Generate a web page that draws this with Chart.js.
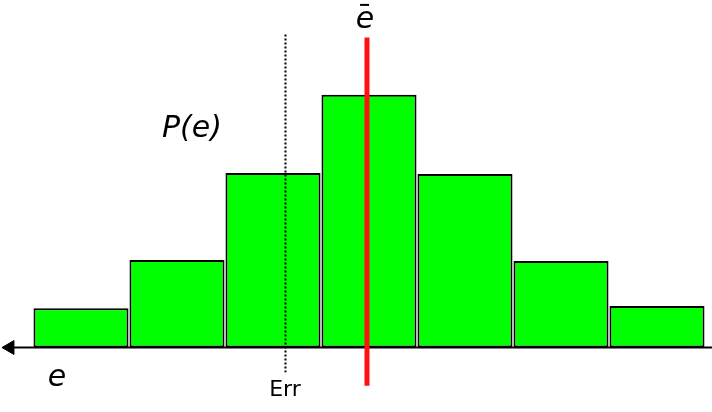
<!DOCTYPE html>
<html>
<head>
<meta charset="utf-8">
<script src="https://cdn.jsdelivr.net/npm/chart.js@4/dist/chart.umd.min.js"></script>
<style>
  html, body { margin: 0; padding: 0; background: #fff; }
  #wrap { width: 712px; height: 412px; position: relative; }
</style>
</head>
<body>
<div id="wrap"><canvas id="c"></canvas></div>
<script>
// Histogram bins (centres) and heights P(e)
const binCenters = [1, 2, 3, 4, 5, 6, 7];
const binHeights = [1.27, 2.82, 5.63, 8.15, 5.60, 2.79, 1.34];
// Mean of e and the Err threshold (x in bin units)
const meanE = 3.979;
const errX = 3.130;
// Vertical extents of the marker lines
const meanLineY = [10.0, -1.23];
const errLineY = [10.1, -0.8];
// Axis extents
const axisX = [0.26, 7.573];
const xRange = [0.15625, 7.5729];
const yRange = [-2.08, 11.21];

const barData = binCenters.map((x, i) => ({ x: x, y: binHeights[i] }));

const annotations = {
  id: 'annotations',
  afterDatasetsDraw(chart) {
    const { ctx, scales: { x, y } } = chart;
    ctx.save();
    ctx.fillStyle = '#000';
    ctx.textAlign = 'center';
    ctx.textBaseline = 'alphabetic';
    ctx.font = 'oblique 30px "DejaVu Sans"';
    ctx.fillText('e', x.getPixelForValue(0.75), y.getPixelForValue(-1.24));
    ctx.fillText('P(e)', x.getPixelForValue(2.156), y.getPixelForValue(6.79));
    const mx = x.getPixelForValue(meanE - 0.02);
    const my = y.getPixelForValue(10.31);
    ctx.fillText('e', mx, my);
    ctx.strokeStyle = '#000';
    ctx.lineWidth = 2;
    ctx.beginPath();
    ctx.moveTo(mx - 5, my - 23);
    ctx.lineTo(mx + 4, my - 23);
    ctx.stroke();
    ctx.font = '22px "DejaVu Sans"';
    ctx.fillText('Err', x.getPixelForValue(3.125), y.getPixelForValue(-1.56));
    ctx.restore();
  }
};

new Chart(document.getElementById('c'), {
  data: {
    datasets: [
      {
        type: 'line',
        order: 0,
        data: [{ x: meanE, y: meanLineY[0] }, { x: meanE, y: meanLineY[1] }],
        borderColor: '#ff1111',
        borderWidth: 5,
        pointRadius: 0,
        borderCapStyle: 'butt'
      },
      {
        type: 'line',
        order: 1,
        data: [{ x: errX, y: errLineY[0] }, { x: errX, y: errLineY[1] }],
        borderColor: '#000',
        borderWidth: 2,
        borderDash: [2, 2],
        pointRadius: 0
      },
      {
        type: 'line',
        order: 2,
        data: [{ x: axisX[0], y: 0 }, { x: axisX[1], y: 0 }],
        borderColor: '#000',
        borderWidth: 2,
        pointStyle: 'triangle',
        pointRotation: -90,
        pointRadius: [8, 0],
        pointBackgroundColor: '#000',
        pointBorderColor: '#000',
        pointBorderWidth: 1
      },
      {
        type: 'bar',
        order: 3,
        data: barData,
        backgroundColor: '#00ff00',
        borderColor: '#000',
        borderWidth: 2,
        borderSkipped: false,
        barPercentage: 0.99,
        categoryPercentage: 1.0
      }
    ]
  },
  options: {
    responsive: true,
    maintainAspectRatio: false,
    animation: false,
    layout: { padding: 0, autoPadding: false },
    clip: false,
    plugins: { legend: { display: false }, tooltip: { enabled: false } },
    scales: {
      x: {
        type: 'linear', min: xRange[0], max: xRange[1], offset: false, display: false,
        afterBuildTicks: (s) => { s.ticks = []; }
      },
      y: { type: 'linear', min: yRange[0], max: yRange[1], display: false }
    }
  },
  plugins: [annotations]
});
</script>
</body>
</html>
